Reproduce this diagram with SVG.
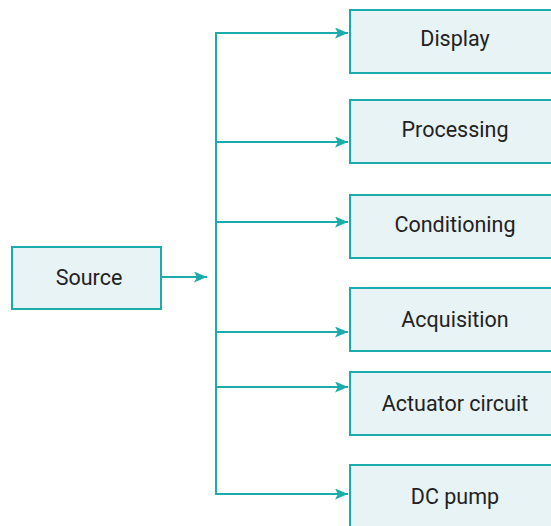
<svg xmlns="http://www.w3.org/2000/svg" width="551" height="526" viewBox="0 0 551 526">
  <style>
    .box { fill: #e8f3f6; stroke: #1aacac; stroke-width: 2; }
    .lbl { font-family: Roboto, "Liberation Sans", sans-serif; font-size: 21.5px; fill: #222; text-anchor: middle; dominant-baseline: central; }
    .wire { fill: none; stroke: #1aacac; stroke-width: 2; }
  </style>
  <defs>
    <marker id="arrow" viewBox="0 0 13 11" refX="13" refY="5.5" markerWidth="13" markerHeight="11" markerUnits="userSpaceOnUse" orient="auto">
      <path d="M0,0 L13,5.5 L0,11 L3,5.5 Z" fill="#1aacac"/>
    </marker>
  </defs>

  <g id="connectors">
    <line class="wire" x1="161" y1="277" x2="207" y2="277" marker-end="url(#arrow)"/>
    <line class="wire" x1="216" y1="33" x2="216" y2="494"/>
    <line class="wire" x1="215" y1="33" x2="348" y2="33" marker-end="url(#arrow)"/>
    <line class="wire" x1="215" y1="142" x2="348" y2="142" marker-end="url(#arrow)"/>
    <line class="wire" x1="215" y1="222" x2="348" y2="222" marker-end="url(#arrow)"/>
    <line class="wire" x1="215" y1="332" x2="348" y2="332" marker-end="url(#arrow)"/>
    <line class="wire" x1="215" y1="387" x2="348" y2="387" marker-end="url(#arrow)"/>
    <line class="wire" x1="215" y1="494" x2="348" y2="494" marker-end="url(#arrow)"/>
  </g>

  <g id="source">
    <rect class="box" x="12" y="247" width="149" height="62"/>
    <text class="lbl" x="89" y="277">Source</text>
  </g>
  <g id="display">
    <rect class="box" x="350" y="10" width="212" height="63"/>
    <text class="lbl" x="455" y="38">Display</text>
  </g>
  <g id="processing">
    <rect class="box" x="350" y="100" width="212" height="63"/>
    <text class="lbl" x="455" y="129">Processing</text>
  </g>
  <g id="conditioning">
    <rect class="box" x="350" y="195" width="212" height="63"/>
    <text class="lbl" x="455" y="224">Conditioning</text>
  </g>
  <g id="acquisition">
    <rect class="box" x="350" y="288" width="212" height="63"/>
    <text class="lbl" x="455" y="319">Acquisition</text>
  </g>
  <g id="actuator">
    <rect class="box" x="350" y="372" width="212" height="63"/>
    <text class="lbl" x="455" y="403">Actuator circuit</text>
  </g>
  <g id="dcpump">
    <rect class="box" x="350" y="465" width="212" height="70"/>
    <text class="lbl" x="455" y="496">DC pump</text>
  </g>
</svg>
